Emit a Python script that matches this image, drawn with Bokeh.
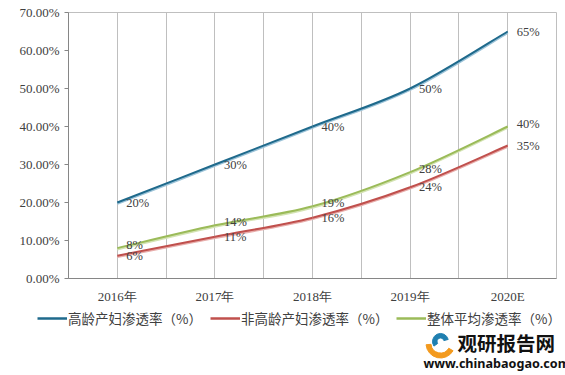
from bokeh.plotting import figure
from bokeh.layouts import column
from bokeh.models import Range1d, FixedTicker, Legend, LegendItem
from bokeh.core.properties import value
from bokeh.embed import file_html
from bokeh.resources import INLINE
import math

# ---- data ----
categories = ["2016年", "2017年", "2018年", "2019年", "2020E"]
older_rate = [20, 30, 40, 50, 65]        # 高龄产妇渗透率
younger_rate = [6, 11, 16, 24, 35]       # 非高龄产妇渗透率
overall_rate = [8, 14, 19, 28, 40]       # 整体平均渗透率
series_names = ["高龄产妇渗透率（%）", "非高龄产妇渗透率（%）", "整体平均渗透率（%）"]
y_ticks = [0, 10, 20, 30, 40, 50, 60, 70]
brand_name = "观研报告网"
brand_url = "www.chinabaogao.com"

TEXT = "#404040"
NUM_FONT = "Liberation Serif"
CJK_FONT = "Noto Sans CJK SC"

n = len(categories)
xs = [i + 0.5 for i in range(n)]

p = figure(width=565, height=305, frame_width=488, frame_height=266,
           x_range=Range1d(0, n), y_range=Range1d(0, 70),
           output_backend="svg", toolbar_location=None,
           min_border_left=68, min_border_right=9, min_border_top=12, min_border_bottom=27)
p.outline_line_color = "#BFBFBF"
p.background_fill_color = "white"
p.border_fill_color = "white"

# y axis
p.yaxis.ticker = FixedTicker(ticks=y_ticks)
p.yaxis.major_label_overrides = {t: f"{t:.2f}%" for t in y_ticks}
p.yaxis.minor_tick_line_color = None
p.yaxis.major_tick_in = 0
p.yaxis.major_tick_out = 4
p.yaxis.major_tick_line_color = "#868686"
p.yaxis.axis_line_color = "#868686"
p.yaxis.major_label_standoff = 5
p.yaxis.major_label_text_font = NUM_FONT
p.yaxis.major_label_text_font_size = "13px"
p.yaxis.major_label_text_color = TEXT
p.ygrid.grid_line_color = None

# x axis
p.xaxis.ticker = FixedTicker(ticks=xs)
p.xaxis.major_label_overrides = {x: c for x, c in zip(xs, categories)}
p.xaxis.major_tick_line_color = None
p.xaxis.minor_tick_line_color = None
p.xaxis.axis_line_color = "#868686"
p.xaxis.major_label_standoff = 4
p.xaxis.major_label_text_font = NUM_FONT
p.xaxis.major_label_text_font_size = "13px"
p.xaxis.major_label_text_color = TEXT
p.xgrid.ticker = FixedTicker(ticks=[i * 0.5 for i in range(1, 2 * n)])
p.xgrid.grid_line_color = "#BFBFBF"
p.xgrid.grid_line_width = 1


def bezier_parts(xv, yv):
    m = len(xv)
    out = {k: [] for k in ("x0", "y0", "x1", "y1", "cx0", "cy0", "cx1", "cy1")}
    for i in range(m - 1):
        pa = max(i - 1, 0)
        pb = min(i + 2, m - 1)
        out["x0"].append(xv[i]); out["y0"].append(yv[i])
        out["x1"].append(xv[i + 1]); out["y1"].append(yv[i + 1])
        out["cx0"].append(xv[i] + (xv[i + 1] - xv[pa]) / 6)
        out["cy0"].append(yv[i] + (yv[i + 1] - yv[pa]) / 6)
        out["cx1"].append(xv[i + 1] - (xv[pb] - xv[i]) / 6)
        out["cy1"].append(yv[i + 1] - (yv[pb] - yv[i]) / 6)
    return out


series = [
    (older_rate, "#1F6A8C", "#9CC3D8", 0),
    (younger_rate, "#C0504D", "#E8AEAC", 0),
    (overall_rate, "#9BBB59", "#D3E3B2", -3),
]

for vals, dark, light, yoff in series:
    b = bezier_parts(xs, vals)
    sh = dict(b)
    for k in ("y0", "y1", "cy0", "cy1"):
        sh[k] = [v - 0.3 for v in b[k]]
    p.bezier(**sh, line_color=light, line_width=2.5)
    p.bezier(**b, line_color=dark, line_width=2)
    p.text(x=xs, y=vals, text=[f"{v}%" for v in vals], x_offset=9, y_offset=yoff,
           text_baseline="middle", text_align="left",
           text_font=value(NUM_FONT), text_font_size="12.5px", text_color=TEXT)

# ---- bottom strip: legend + watermark ----
# (the column aligns this strip's data mapping with the chart frame, so the
#  range is shifted to keep x = page pixel; y = -(pixels below strip top))
p2 = figure(width=565, height=70, frame_width=565, frame_height=70,
            x_range=Range1d(68, 633), y_range=Range1d(-70, 0),
            x_axis_location=None, y_axis_location=None,
            output_backend="svg", toolbar_location=None,
            min_border_left=0, min_border_right=0, min_border_top=0, min_border_bottom=0)
p2.outline_line_color = None
p2.xgrid.grid_line_color = None
p2.ygrid.grid_line_color = None
p2.border_fill_color = "white"
p2.background_fill_color = "white"

legend_x = [37, 210, 396]
for (vals, dark, light, yoff), name, lx in zip(series, series_names, legend_x):
    proxy = p2.line(x=[0, 1], y=[50, 50], line_color=dark, line_width=2.5)
    lg = Legend(items=[LegendItem(label=name, renderers=[proxy])],
                location=(lx, 48), padding=0, margin=0, spacing=0,
                glyph_width=30, glyph_height=16, label_height=16, label_standoff=1,
                label_text_font=CJK_FONT, label_text_font_size="13.5px",
                label_text_color=TEXT, border_line_color=None,
                background_fill_alpha=0)
    p2.add_layout(lg, "center")

# logo mark
p2.annular_wedge(x=[440], y=[-35], inner_radius=3.5, outer_radius=8,
                 start_angle=[math.radians(15)], end_angle=[math.radians(215)],
                 color="#1F7FB0")
p2.annular_wedge(x=[440], y=[-37], inner_radius=9.5, outer_radius=14.5,
                 start_angle=[math.radians(185)], end_angle=[math.radians(330)],
                 color="#F39A1E")
p2.text(x=[457], y=[-36], text=[brand_name], text_font=value(CJK_FONT),
        text_font_size="19.5px", text_font_style="bold", text_color="#111111",
        text_baseline="middle", text_align="left")
p2.text(x=[423], y=[-57], text=[brand_url], text_font=value("Noto Sans"),
        text_font_size="12.6px", text_font_style="bold", text_color="#111111",
        text_baseline="middle", text_align="left")

layout = column(p, p2, spacing=0)
open("out.html", "w").write(file_html(layout, INLINE))
